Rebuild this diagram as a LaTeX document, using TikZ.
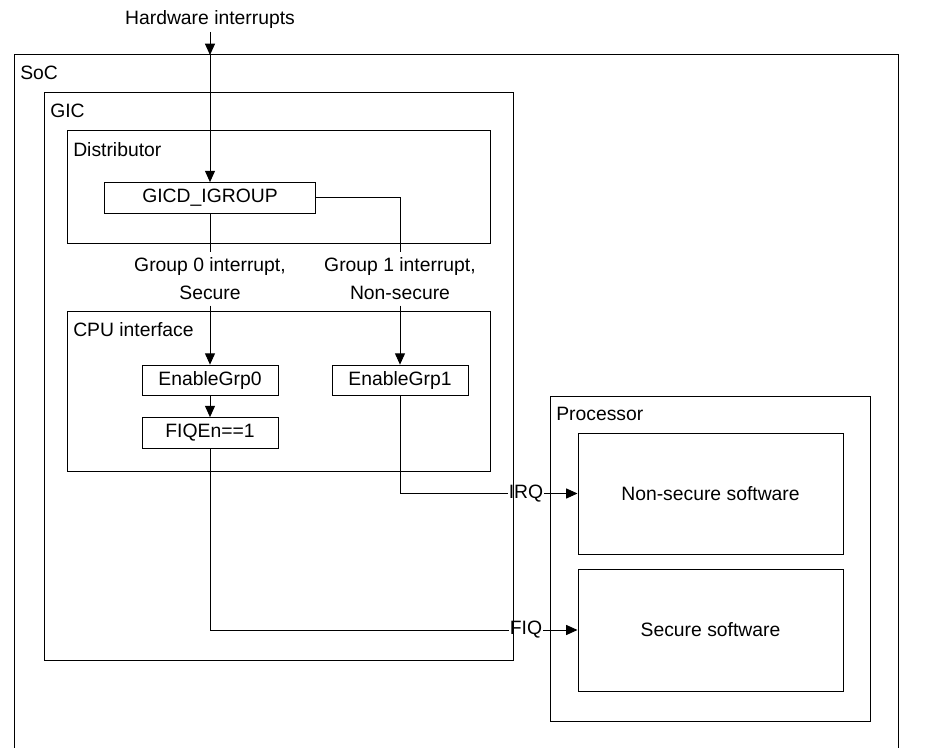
\documentclass[tikz,border=0pt]{standalone}
\usepackage{fontspec}
\setmainfont{Liberation Sans}
\usepackage{tikz}
\usetikzlibrary{arrows.meta, positioning, fit}
\tikzset{
  wire/.style={line width=0.75pt},
  arr/.style={wire, -{Triangle[length=8.5pt,width=7.5pt]}},
  frame/.style={draw, line width=0.75pt, inner sep=0pt},
  regbox/.style={draw, line width=0.75pt, inner sep=0pt, minimum height=23pt},
  tag/.style={anchor=base west, inner sep=0pt},
}

\begin{document}
\begin{tikzpicture}[x=0.75pt, y=-0.75pt, font=\fontsize{14.5}{21}\selectfont]
        \useasboundingbox (0,0) rectangle (949,748);

        % SoC
        \draw[wire] (14,748) -- (14,55) -- (898,55) -- (898,748);
        \node[tag] (soclbl) at (20,80) {SoC};
        \node[anchor=base, inner sep=2pt] (hw) at (210,25) {Hardware interrupts};
        \coordinate (socin) at (210,55);

        % GIC
        \node[frame, fit={(44,93) (513,660)}] (gic) {};
        \node[tag] (giclbl) at (50,118) {GIC};
        \node[frame, fit={(67,131) (490,244)}] (dist) {};
        \node[tag] (distlbl) at (73,157) {Distributor};
        \node[frame, fit={(67,312) (490,471)}] (cpuif) {};
        \node[tag] (cpulbl) at (73,337) {CPU interface};

        % registers
        \node[regbox, minimum width=158pt] (gicd) at (210,198) {GICD\_IGROUP};
        \node[regbox, minimum width=102pt] (en0) at (210,380.5) {EnableGrp0};
        \node[regbox, minimum width=102pt] (en1) at (400,380.5) {EnableGrp1};
        \node[regbox, minimum width=102pt] (fiqen) at (210,433) {FIQEn==1};

        % groups
        \node[align=center, inner sep=4pt] (grp0) at (210,279) {Group 0 interrupt,\\Secure};
        \node[align=center, inner sep=4pt] (grp1) at (400,279) {Group 1 interrupt,\\Non-secure};

        % Processor
        \node[frame, fit={(550,396) (870,721)}] (cpu) {};
        \node[tag] (proclbl) at (556,420) {Processor};
        \node[frame, minimum width=198.75pt, minimum height=90.75pt] (nsw) at (710.5,493.5) {Non-secure software};
        \node[frame, minimum width=198.75pt, minimum height=91.5pt] (sw) at (710.5,630) {Secure software};

        \node[inner sep=0.5pt] (irq) at (526,493.5) {IRQ};
        \node[inner sep=0.5pt] (fiq) at (526,630) {FIQ};

        % connectors
        \draw[arr] (hw) -- (socin);
        \draw[arr] (socin) -- (gicd.north);
        \draw[wire] (gicd.south) -- (grp0.north);
        \draw[wire] (gicd.east) -| (grp1.north);
        \draw[arr] (grp0.south) -- (en0.north);
        \draw[arr] (grp1.south) -- (en1.north);
        \draw[arr] (en0) -- (fiqen);
        \draw[wire] (en1.south) |- (irq.west);
        \draw[wire] (fiqen.south) |- (fiq.west);
        \draw[arr] (irq.east) -- (nsw.west);
        \draw[arr] (fiq.east) -- (sw.west);
    \end{tikzpicture}
\end{document}
